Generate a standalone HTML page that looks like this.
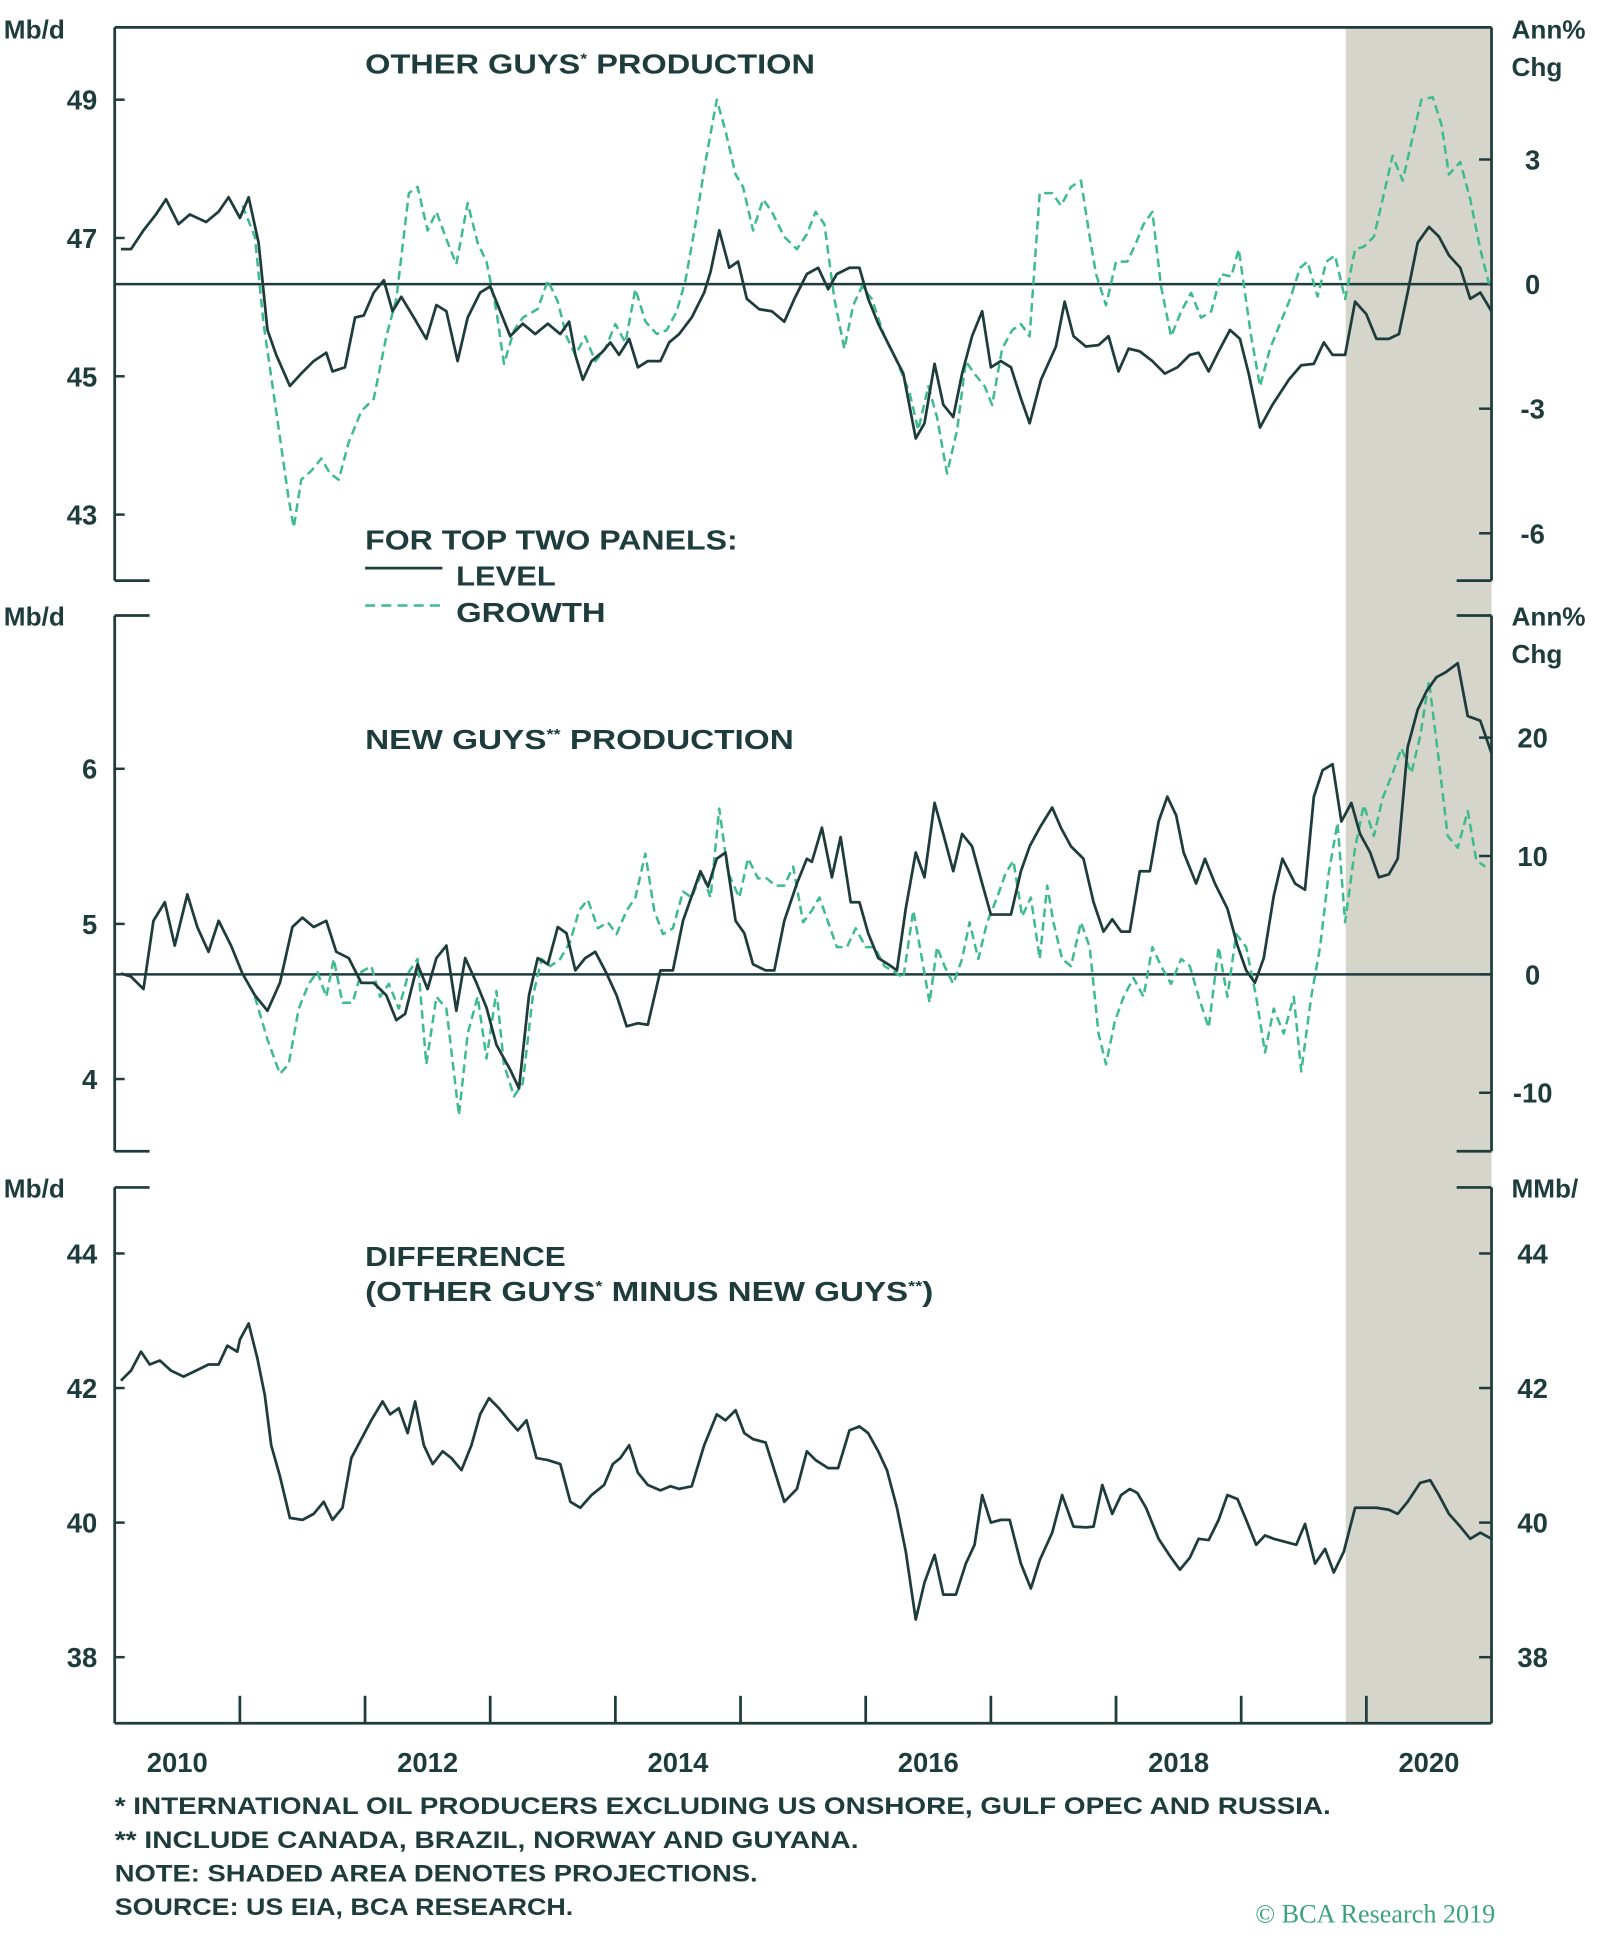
<!DOCTYPE html>
<html><head><meta charset="utf-8"><title>Other Guys vs New Guys Production</title>
<style>
html,body{margin:0;padding:0;background:#fff;}
svg{display:block;}
text{font-family:"Liberation Sans",sans-serif;font-weight:bold;fill:#1f3c3c;}
</style></head>
<body>
<svg id="chart" width="1600" height="1945" viewBox="0 0 1284 1561" xmlns="http://www.w3.org/2000/svg">
<rect x="0" y="0" width="1284" height="1561" fill="#fff"/>
<rect x="1080" y="22" width="117" height="1361" fill="#d5d5cb"/>
<g id="axes"></g>
<g id="marks"></g>
<g id="labels">
<text x="3" y="31" font-size="21">Mb/d</text>
<text x="1213" y="31" font-size="21">Ann%</text>
<text x="1213" y="61" font-size="21">Chg</text>
<text x="293" y="59" font-size="22" textLength="361" lengthAdjust="spacingAndGlyphs">OTHER GUYS<tspan font-size="12" dy="-8">*</tspan><tspan dy="8"> PRODUCTION</tspan></text>
<text x="293" y="441" font-size="22" textLength="299" lengthAdjust="spacingAndGlyphs">FOR TOP TWO PANELS:</text>
<line x1="293" y1="456" x2="355" y2="456" stroke="#1f3c3c" stroke-width="2.2"/>
<text x="366" y="470" font-size="22" textLength="80" lengthAdjust="spacingAndGlyphs">LEVEL</text>
<line x1="293" y1="486" x2="355" y2="486" stroke="#3dbb8c" stroke-width="2" stroke-dasharray="8,5"/>
<text x="366" y="499" font-size="22" textLength="120" lengthAdjust="spacingAndGlyphs">GROWTH</text>
<text x="3" y="502" font-size="21">Mb/d</text>
<text x="1213" y="502" font-size="21">Ann%</text>
<text x="1213" y="532" font-size="21">Chg</text>
<text x="293" y="601" font-size="22" textLength="344" lengthAdjust="spacingAndGlyphs">NEW GUYS<tspan font-size="12" dy="-8">**</tspan><tspan dy="8"> PRODUCTION</tspan></text>
<text x="3" y="961" font-size="21">Mb/d</text>
<text x="1213" y="961" font-size="21">MMb/</text>
<text x="293" y="1016" font-size="22" textLength="161" lengthAdjust="spacingAndGlyphs">DIFFERENCE</text>
<text x="293" y="1044" font-size="22" textLength="456" lengthAdjust="spacingAndGlyphs">(OTHER GUYS<tspan font-size="12" dy="-8">*</tspan><tspan dy="8"> MINUS NEW GUYS</tspan><tspan font-size="12" dy="-8">**</tspan><tspan dy="8">)</tspan></text>
<text x="92" y="1456" font-size="19" textLength="976" lengthAdjust="spacingAndGlyphs">* INTERNATIONAL OIL PRODUCERS EXCLUDING US ONSHORE, GULF OPEC AND RUSSIA.</text>
<text x="92" y="1483" font-size="19" textLength="597" lengthAdjust="spacingAndGlyphs">** INCLUDE CANADA, BRAZIL, NORWAY AND GUYANA.</text>
<text x="92" y="1510" font-size="19" textLength="516" lengthAdjust="spacingAndGlyphs">NOTE: SHADED AREA DENOTES PROJECTIONS.</text>
<text x="92" y="1537" font-size="19" textLength="368" lengthAdjust="spacingAndGlyphs">SOURCE: US EIA, BCA RESEARCH.</text>
<text x="1200" y="1543" font-size="21" text-anchor="end" style="font-family:'Liberation Serif',serif;font-weight:normal;fill:#3aa37a">© BCA Research 2019</text>
</g>
</svg>
<script>
// ---------- data ----------
const p1LevelDates=[2010.05,2010.13,2010.23,2010.33,2010.41,2010.51,2010.60,2010.73,2010.83,2010.91,2011.00,2011.07,2011.15,2011.22,2011.29,2011.40,2011.49,2011.59,2011.69,2011.74,2011.84,2011.92,2011.99,2012.07,2012.15,2012.22,2012.29,2012.39,2012.49,2012.57,2012.65,2012.74,2012.82,2012.92,2013.00,2013.06,2013.16,2013.26,2013.36,2013.46,2013.56,2013.63,2013.68,2013.74,2013.81,2013.89,2013.96,2014.03,2014.11,2014.18,2014.26,2014.36,2014.43,2014.51,2014.61,2014.71,2014.76,2014.83,2014.91,2014.98,2015.05,2015.15,2015.25,2015.35,2015.43,2015.53,2015.62,2015.70,2015.77,2015.87,2015.95,2016.02,2016.10,2016.20,2016.30,2016.40,2016.47,2016.55,2016.62,2016.70,2016.77,2016.85,2016.93,2017.00,2017.08,2017.16,2017.24,2017.31,2017.40,2017.52,2017.59,2017.66,2017.76,2017.86,2017.94,2018.02,2018.10,2018.19,2018.29,2018.39,2018.49,2018.59,2018.66,2018.74,2018.82,2018.91,2018.99,2019.06,2019.15,2019.25,2019.38,2019.48,2019.58,2019.66,2019.73,2019.83,2019.91,2020.00,2020.08,2020.18,2020.26,2020.33,2020.41,2020.50,2020.58,2020.66,2020.75,2020.83,2020.91,2021.00];
const p1LevelValues=[46.84,46.84,47.11,47.34,47.56,47.20,47.34,47.23,47.38,47.59,47.29,47.59,46.93,45.67,45.31,44.86,45.04,45.22,45.34,45.07,45.13,45.85,45.88,46.21,46.39,45.94,46.15,45.85,45.54,46.03,45.94,45.22,45.85,46.21,46.30,46.03,45.58,45.76,45.61,45.76,45.61,45.79,45.31,44.95,45.22,45.34,45.49,45.31,45.54,45.13,45.22,45.22,45.49,45.61,45.85,46.21,46.51,47.11,46.57,46.66,46.12,45.97,45.94,45.79,46.12,46.48,46.57,46.26,46.48,46.57,46.57,46.12,45.76,45.40,45.04,44.10,44.32,45.18,44.59,44.41,45.04,45.58,45.94,45.13,45.22,45.13,44.68,44.32,44.95,45.43,46.08,45.58,45.43,45.45,45.58,45.07,45.40,45.36,45.22,45.04,45.13,45.31,45.34,45.07,45.36,45.67,45.54,45.04,44.26,44.59,44.95,45.16,45.18,45.49,45.31,45.31,46.08,45.90,45.54,45.54,45.61,46.21,46.93,47.16,47.02,46.75,46.57,46.12,46.21,45.94];
const p1GrowthDates=[2011.02,2011.12,2011.19,2011.29,2011.39,2011.43,2011.49,2011.57,2011.65,2011.72,2011.79,2011.87,2011.97,2012.07,2012.17,2012.25,2012.35,2012.42,2012.50,2012.57,2012.65,2012.73,2012.82,2012.90,2012.97,2013.05,2013.11,2013.19,2013.26,2013.38,2013.46,2013.54,2013.61,2013.68,2013.76,2013.84,2013.92,2014.00,2014.08,2014.16,2014.24,2014.33,2014.41,2014.49,2014.56,2014.64,2014.72,2014.81,2014.88,2014.96,2015.02,2015.10,2015.18,2015.25,2015.35,2015.45,2015.53,2015.60,2015.67,2015.75,2015.83,2015.90,2015.97,2016.05,2016.15,2016.25,2016.35,2016.42,2016.50,2016.57,2016.65,2016.73,2016.80,2016.87,2016.95,2017.01,2017.09,2017.17,2017.24,2017.31,2017.39,2017.49,2017.56,2017.64,2017.72,2017.79,2017.84,2017.92,2018.00,2018.09,2018.16,2018.22,2018.29,2018.36,2018.44,2018.52,2018.60,2018.68,2018.76,2018.84,2018.92,2018.98,2019.08,2019.15,2019.23,2019.31,2019.39,2019.47,2019.53,2019.61,2019.68,2019.75,2019.83,2019.91,2019.98,2020.06,2020.13,2020.21,2020.29,2020.37,2020.44,2020.53,2020.60,2020.66,2020.75,2020.83,2020.91,2020.98];
const p1GrowthValues=[1.89,1.14,-0.96,-3.06,-5.17,-5.86,-4.71,-4.50,-4.20,-4.56,-4.71,-3.81,-3.06,-2.76,-1.26,-0.36,2.19,2.34,1.29,1.74,1.08,0.48,1.95,0.99,0.54,-0.66,-1.92,-1.11,-0.81,-0.60,0.09,-0.42,-1.26,-1.71,-1.26,-1.86,-1.56,-0.96,-1.41,-0.12,-0.90,-1.20,-1.11,-0.66,0.09,1.44,2.94,4.44,3.69,2.64,2.34,1.29,2.04,1.74,1.14,0.84,1.20,1.74,1.44,-0.36,-1.56,-0.51,-0.06,-0.36,-1.26,-1.86,-2.61,-3.51,-2.46,-3.21,-4.56,-3.51,-1.86,-2.16,-2.46,-2.91,-1.56,-1.11,-0.96,-1.26,2.19,2.19,1.89,2.34,2.49,1.14,0.24,-0.51,0.54,0.54,0.99,1.44,1.74,-0.06,-1.26,-0.66,-0.21,-0.81,-0.66,0.24,0.18,0.84,-1.26,-2.46,-1.56,-0.96,-0.36,0.39,0.54,-0.30,0.54,0.69,-0.36,0.84,0.90,1.14,2.04,3.09,2.49,3.54,4.44,4.50,3.84,2.64,2.94,2.04,0.84,0.00];
const p2LevelDates=[2010.05,2010.13,2010.23,2010.31,2010.40,2010.48,2010.58,2010.66,2010.75,2010.83,2010.93,2011.02,2011.12,2011.22,2011.32,2011.42,2011.50,2011.59,2011.69,2011.77,2011.87,2011.97,2012.07,2012.17,2012.25,2012.32,2012.42,2012.50,2012.57,2012.65,2012.73,2012.80,2012.89,2012.97,2013.05,2013.16,2013.23,2013.31,2013.38,2013.46,2013.54,2013.61,2013.68,2013.76,2013.84,2013.93,2014.01,2014.09,2014.18,2014.26,2014.36,2014.46,2014.54,2014.61,2014.68,2014.74,2014.81,2014.88,2014.96,2015.03,2015.10,2015.20,2015.27,2015.35,2015.45,2015.53,2015.57,2015.65,2015.73,2015.80,2015.88,2015.95,2016.02,2016.10,2016.18,2016.25,2016.32,2016.40,2016.47,2016.55,2016.62,2016.70,2016.77,2016.85,2016.93,2017.00,2017.07,2017.16,2017.24,2017.31,2017.39,2017.49,2017.56,2017.64,2017.74,2017.82,2017.90,2017.97,2018.04,2018.11,2018.19,2018.27,2018.34,2018.41,2018.48,2018.54,2018.64,2018.71,2018.79,2018.89,2018.97,2019.04,2019.11,2019.18,2019.26,2019.33,2019.43,2019.51,2019.58,2019.65,2019.73,2019.80,2019.88,2019.95,2020.03,2020.10,2020.18,2020.25,2020.33,2020.41,2020.48,2020.56,2020.63,2020.73,2020.81,2020.91,2021.00];
const p2LevelValues=[4.68,4.66,4.58,5.02,5.14,4.86,5.19,4.98,4.82,5.02,4.86,4.68,4.54,4.44,4.62,4.98,5.04,4.98,5.02,4.82,4.78,4.62,4.62,4.54,4.38,4.42,4.74,4.58,4.78,4.86,4.44,4.78,4.62,4.46,4.22,4.06,3.94,4.54,4.78,4.74,4.98,4.94,4.70,4.78,4.82,4.68,4.54,4.34,4.36,4.35,4.70,4.70,5.02,5.18,5.34,5.24,5.42,5.46,5.02,4.94,4.74,4.70,4.70,5.02,5.26,5.42,5.40,5.62,5.30,5.56,5.14,5.14,4.94,4.78,4.74,4.70,5.10,5.46,5.30,5.78,5.58,5.34,5.58,5.50,5.26,5.06,5.06,5.06,5.34,5.50,5.62,5.75,5.62,5.50,5.42,5.14,4.95,5.03,4.95,4.95,5.34,5.34,5.66,5.82,5.70,5.46,5.26,5.42,5.26,5.10,4.86,4.70,4.62,4.78,5.18,5.42,5.26,5.22,5.82,5.99,6.03,5.66,5.78,5.58,5.46,5.30,5.32,5.42,6.14,6.38,6.50,6.59,6.62,6.68,6.34,6.31,6.10];
const p2GrowthDates=[2011.12,2011.22,2011.32,2011.39,2011.47,2011.55,2011.62,2011.69,2011.75,2011.82,2011.90,2011.97,2012.05,2012.12,2012.19,2012.27,2012.35,2012.42,2012.49,2012.57,2012.65,2012.75,2012.82,2012.90,2012.97,2013.05,2013.11,2013.19,2013.26,2013.34,2013.41,2013.48,2013.56,2013.64,2013.71,2013.78,2013.86,2013.94,2014.01,2014.09,2014.16,2014.24,2014.31,2014.38,2014.46,2014.54,2014.61,2014.69,2014.76,2014.83,2014.90,2014.99,2015.06,2015.14,2015.21,2015.28,2015.35,2015.42,2015.50,2015.57,2015.63,2015.70,2015.77,2015.85,2015.92,2016.00,2016.07,2016.15,2016.23,2016.30,2016.38,2016.45,2016.51,2016.57,2016.63,2016.70,2016.77,2016.83,2016.90,2016.97,2017.05,2017.12,2017.18,2017.25,2017.32,2017.39,2017.45,2017.50,2017.57,2017.64,2017.72,2017.79,2017.86,2017.92,2017.99,2018.06,2018.14,2018.22,2018.29,2018.36,2018.44,2018.52,2018.59,2018.66,2018.74,2018.82,2018.89,2018.96,2019.04,2019.12,2019.19,2019.26,2019.34,2019.42,2019.48,2019.56,2019.63,2019.70,2019.77,2019.83,2019.91,2019.98,2020.06,2020.13,2020.21,2020.28,2020.36,2020.43,2020.50,2020.58,2020.65,2020.73,2020.81,2020.88,2020.95];
const p2GrowthValues=[-1.9,-5.5,-8.4,-7.6,-2.9,-0.8,0.2,-1.9,1.3,-2.4,-2.4,0.2,0.7,-1.9,-0.8,-2.9,0.2,1.3,-7.6,-1.9,-2.9,-11.9,-5.0,-1.9,-7.1,-1.4,-7.6,-10.3,-9.2,-1.9,1.3,0.7,1.3,2.8,5.4,6.3,3.9,4.4,3.4,5.4,6.5,10.2,5.4,3.4,3.9,7.0,6.5,8.6,6.5,14.0,8.6,6.5,9.8,8.1,8.1,7.5,7.5,9.1,4.4,5.4,6.5,4.4,2.3,2.3,3.9,2.3,2.3,0.7,0.2,-0.3,5.4,1.3,-2.4,2.3,0.7,-0.8,1.3,4.4,1.3,4.4,6.5,8.6,9.6,4.9,6.5,1.3,7.5,4.4,1.3,0.7,4.4,2.3,-5.0,-7.6,-4.0,-1.9,-0.3,-1.9,2.3,0.7,-0.8,1.3,0.7,-1.9,-4.5,2.3,-1.9,3.4,2.3,-1.9,-6.6,-2.9,-5.0,-1.9,-8.2,-1.9,2.3,8.6,12.8,4.4,10.7,14.3,11.7,14.9,17.0,19.1,17.0,20.1,24.8,18.0,11.7,10.7,13.8,9.6,9.1];
const p3Dates=[2010.05,2010.13,2010.21,2010.28,2010.36,2010.45,2010.55,2010.65,2010.75,2010.83,2010.90,2010.98,2011.00,2011.07,2011.14,2011.20,2011.25,2011.32,2011.40,2011.50,2011.59,2011.67,2011.74,2011.82,2011.89,2011.97,2012.05,2012.14,2012.20,2012.27,2012.34,2012.40,2012.47,2012.54,2012.62,2012.69,2012.77,2012.85,2012.92,2012.99,2013.07,2013.15,2013.22,2013.29,2013.37,2013.46,2013.56,2013.64,2013.72,2013.81,2013.91,2013.98,2014.04,2014.11,2014.18,2014.26,2014.36,2014.44,2014.51,2014.61,2014.71,2014.81,2014.88,2014.96,2015.03,2015.10,2015.20,2015.27,2015.35,2015.45,2015.53,2015.60,2015.70,2015.78,2015.87,2015.95,2016.02,2016.10,2016.17,2016.25,2016.32,2016.40,2016.47,2016.55,2016.62,2016.72,2016.80,2016.87,2016.93,2017.00,2017.08,2017.15,2017.24,2017.32,2017.39,2017.49,2017.57,2017.66,2017.76,2017.82,2017.89,2017.97,2018.04,2018.11,2018.17,2018.24,2018.34,2018.44,2018.51,2018.59,2018.66,2018.74,2018.82,2018.89,2018.97,2019.04,2019.12,2019.19,2019.26,2019.34,2019.44,2019.51,2019.59,2019.67,2019.74,2019.82,2019.91,2020.00,2020.08,2020.18,2020.25,2020.33,2020.43,2020.51,2020.58,2020.66,2020.75,2020.83,2020.91,2021.00];
const p3Values=[42.11,42.26,42.54,42.35,42.41,42.26,42.17,42.26,42.35,42.35,42.63,42.54,42.72,42.96,42.44,41.89,41.15,40.69,40.07,40.04,40.13,40.31,40.04,40.22,40.96,41.24,41.52,41.80,41.61,41.70,41.33,41.80,41.15,40.87,41.06,40.96,40.78,41.15,41.61,41.85,41.70,41.52,41.37,41.52,40.96,40.93,40.87,40.31,40.22,40.41,40.56,40.87,40.96,41.15,40.74,40.56,40.48,40.54,40.50,40.54,41.15,41.61,41.52,41.67,41.33,41.24,41.19,40.78,40.31,40.50,41.06,40.93,40.81,40.81,41.37,41.43,41.33,41.06,40.78,40.22,39.57,38.56,39.11,39.52,38.93,38.93,39.39,39.67,40.41,40.00,40.04,40.04,39.39,39.02,39.44,39.85,40.41,39.94,39.93,39.94,40.56,40.13,40.41,40.50,40.44,40.22,39.76,39.48,39.30,39.48,39.76,39.74,40.04,40.41,40.35,40.04,39.67,39.81,39.76,39.72,39.67,39.98,39.39,39.61,39.26,39.57,40.22,40.22,40.22,40.19,40.13,40.31,40.59,40.63,40.41,40.13,39.94,39.76,39.85,39.76];
const yearLabels=["2010","2012","2014","2016","2018","2020"];
const p1LeftTicks=[49,47,45,43];
const p1RightTicks=[3,0,-3,-6];
const p2LeftTicks=[6,5,4];
const p2RightTicks=[20,10,0,-10];
const p3LeftTicks=[44,42,40,38];
const p3RightTicks=[44,42,40,38];

// ---------- scales ----------
const NS="http://www.w3.org/2000/svg";
const X0=92,X1=1197;
function x(t){return X0+(t-2010)*(X1-X0)/11;}
function lin(v0,p0,v1,p1){return v=>p0+(v-v0)*(p1-p0)/(v1-v0);}
const y1L=lin(49,80,43,413), y1R=lin(3,128,0,228);
const y2L=lin(6,617,4,866), y2R=lin(10,687,0,782);
const y3L=lin(42,1114,40,1222), y3R=lin(42,1114,40,1222);
const axes=document.getElementById('axes'), marks=document.getElementById('marks');
const DARK="#1f3c3c";
function mk(tag,attrs,parent){const e=document.createElementNS(NS,tag);for(const k in attrs)e.setAttribute(k,attrs[k]);parent.appendChild(e);return e;}

// ---------- axes ----------
const panels=[
 {top:22,bot:466,fullTop:true,fullBot:false,L:p1LeftTicks,R:p1RightTicks,yl:y1L,yr:y1R,zero:y1R(0)},
 {top:494,bot:924,fullTop:false,fullBot:false,L:p2LeftTicks,R:p2RightTicks,yl:y2L,yr:y2R,zero:y2R(0)},
 {top:953,bot:1383,fullTop:false,fullBot:true,L:p3LeftTicks,R:p3RightTicks,yl:y3L,yr:y3R,zero:null}
];
panels.forEach((p,i)=>{
 let e;
 e=mk('line',{x1:X0,y1:p.top,x2:X0,y2:p.bot,stroke:DARK,'stroke-width':2.2},axes);
 
 
 e=mk('line',{x1:X1,y1:p.top,x2:X1,y2:p.bot,stroke:DARK,'stroke-width':2.2},axes);
 
 
 [[p.top,p.fullTop],[p.bot,p.fullBot]].forEach(([yy,full])=>{
  if(full){e=mk('line',{x1:X0,y1:yy,x2:X1,y2:yy,stroke:DARK,'stroke-width':2.2},axes);}
  else{mk('line',{x1:X0,y1:yy,x2:X0+28,y2:yy,stroke:DARK,'stroke-width':2.2},axes);
   e=mk('line',{x1:X1-28,y1:yy,x2:X1,y2:yy,stroke:DARK,'stroke-width':2.2},axes);}
  
  
 });
 p.L.forEach(v=>{
  const yy=p.yl(v);
  mk('line',{x1:X0,y1:yy,x2:X0+8,y2:yy,stroke:DARK,'stroke-width':2},axes);
  const t=mk('text',{x:78,y:yy+8,'font-size':22,'text-anchor':'end'},axes);
  t.textContent=v;
  
  
 });
 p.R.forEach(v=>{
  const yy=p.yr(v);
  mk('line',{x1:X1-10,y1:yy,x2:X1,y2:yy,stroke:DARK,'stroke-width':2},axes);
  const t=mk('text',{x:1230,y:yy+8,'font-size':22,'text-anchor':'middle'},axes);
  t.textContent=v;
  
  
 });
 if(p.zero!==null){
  e=mk('line',{x1:X0,y1:p.zero,x2:X1,y2:p.zero,stroke:DARK,'stroke-width':2},axes);
  
  
 }
});
for(let yr=2011;yr<=2020;yr++){
 mk('line',{x1:x(yr),y1:1383,x2:x(yr),y2:1361,stroke:DARK,'stroke-width':2.2},axes);
}
yearLabels.forEach(l=>{
 const t=mk('text',{x:x(+l+0.5),y:1422,'font-size':22,'text-anchor':'middle'},axes);
 t.textContent=l;
 
 
});

// ---------- series ----------
function path(dates,vals,ys,name,dashed){
 const d=dates.map((t,i)=>(i?'L':'M')+x(t).toFixed(1)+','+ys(vals[i]).toFixed(1)).join('');
 const e=mk('path',{d:d,fill:'none',stroke:dashed?'#3dbb8c':DARK,'stroke-width':dashed?2:2.2,'stroke-linejoin':'round'},marks);
 if(dashed)e.setAttribute('stroke-dasharray','7,4');
 
 
}
path(p1GrowthDates,p1GrowthValues,y1R,'other-guys-growth-line',true);
path(p1LevelDates,p1LevelValues,y1L,'other-guys-level-line',false);
path(p2GrowthDates,p2GrowthValues,y2R,'new-guys-growth-line',true);
path(p2LevelDates,p2LevelValues,y2L,'new-guys-level-line',false);
path(p3Dates,p3Values,y3L,'difference-line',false);
</script>
</body></html>
